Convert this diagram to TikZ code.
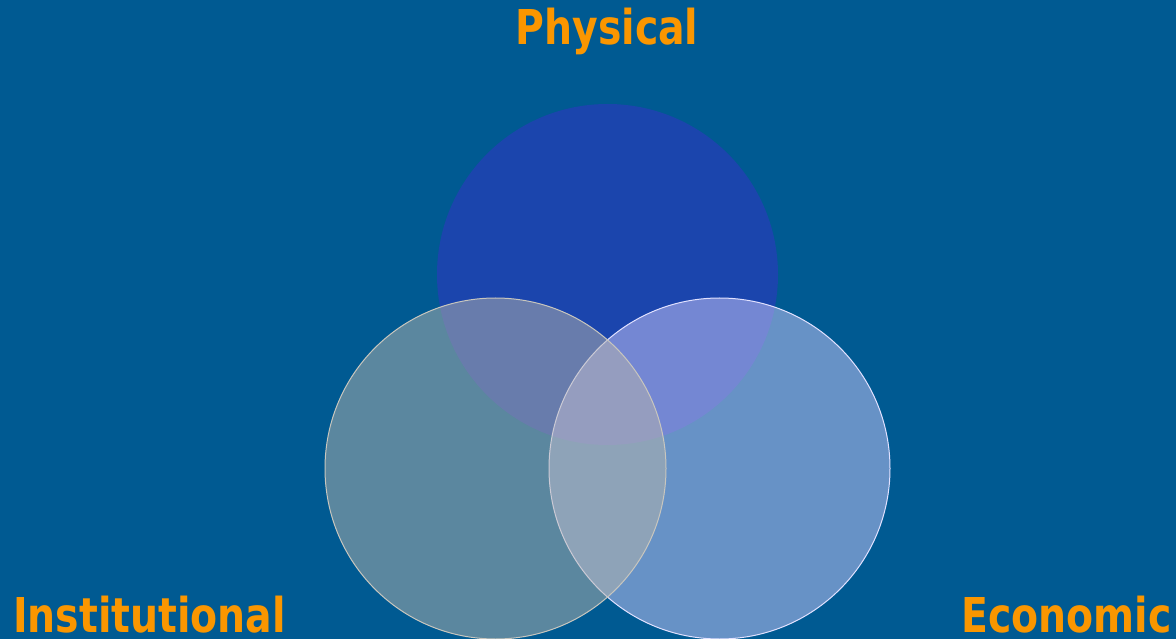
\documentclass[tikz,border=0pt]{standalone}
\usepackage{fontspec}
\newfontfamily\labelfont{DejaVu Sans}[BoldFont={DejaVu Sans Bold}]
\definecolor{bgblue}{RGB}{0,90,146}
\definecolor{topblue}{RGB}{27,69,173}
\definecolor{leftfill}{RGB}{182,180,172}
\definecolor{rightfill}{RGB}{206,202,250}
\definecolor{lefted}{RGB}{200,198,190}
\definecolor{righted}{RGB}{225,225,255}
\definecolor{lblorange}{RGB}{250,150,0}
\tikzset{
  lbl/.style={inner sep=0pt, text=lblorange, font=\labelfont\bfseries\fontsize{48}{48}\selectfont},
  topcirc/.style={circle, fill=topblue, draw=none, minimum size=341pt, inner sep=0pt},
  leftcirc/.style={circle, fill=leftfill, fill opacity=0.5, draw=lefted, draw opacity=1, line width=1pt, minimum size=341pt, inner sep=0pt},
  rightcirc/.style={circle, fill=rightfill, fill opacity=0.5, draw=righted, draw opacity=1, line width=1pt, minimum size=341pt, inner sep=0pt}
}
\begin{document}
\begin{tikzpicture}[x=1pt,y=-1pt]
\fill[bgblue] (0,0) rectangle (1176,639);
\useasboundingbox (0,0) rectangle (1176,639);
\begin{scope}
\clip (0,0) rectangle (1176,639);
\node[topcirc] (phys) at (607.5,274.5) {};
\node[rightcirc] (econ) at (719.5,468.5) {};
\node[leftcirc] (inst) at (495.5,468.5) {};
\end{scope}
\node[lbl, anchor=base] (tphys) at (607,45) {\scalebox{0.82}[1]{Physical}};
\node[lbl, anchor=base west] (tinst) at (13,632) {\scalebox{0.82}[1]{Institutional}};
\node[lbl, anchor=base east] (tecon) at (1172,632) {\scalebox{0.82}[1]{Economic}};
\end{tikzpicture}
\end{document}
